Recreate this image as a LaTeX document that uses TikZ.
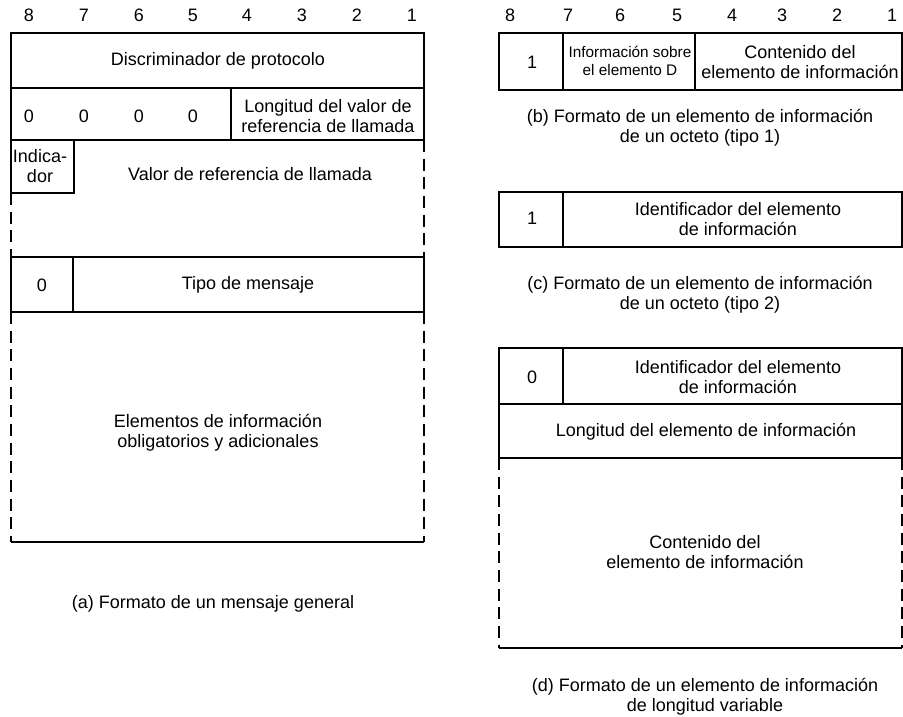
\documentclass[tikz,border=0pt]{standalone}
\usepackage{fontspec}
\setmainfont{Liberation Sans}
\tikzset{
  campo/.style={align=center,inner sep=1pt},
  chico/.style={campo,font=\fontsize{11.5}{13.5}\selectfont},
  corte/.style={dashed,dash pattern=on 9pt off 5pt}
}
\begin{document}
\begin{tikzpicture}[x=0.75pt,y=-0.75pt,line width=.8pt,font=\fontsize{13.5}{15}\selectfont]
\useasboundingbox (0,0) rectangle (903,717);
% numeros de bit
\foreach \b/\x in {8/29,7/84,6/139,5/193,4/247,3/302,2/357,1/412}
  \node (ba\b) at (\x,15) {\b};
\foreach \b/\x in {8/510,7/568,6/620,5/677,4/732,3/782,2/837,1/892}
  \node (bb\b) at (\x,15) {\b};
% (a) mensaje general
\draw (11,140)--(11,33)--(424,33)--(424,140);
\draw (11,88)--(424,88);
\draw (11,140)--(424,140);
\draw (231,88)--(231,140);
\draw (11,140)--(11,193)--(74,193)--(74,140);
\draw[corte] (11,193)--(11,257);
\draw[corte] (424,140)--(424,257);
\draw (11,257) rectangle (424,312);
\draw (73,257)--(73,312);
\draw[corte] (11,312)--(11,542);
\draw[corte] (424,312)--(424,542);
\draw (11,542)--(424,542);
\node[campo] (discrim) at (218,61) {Discriminador de protocolo};
\foreach \x [count=\i] in {29,84,139,193}
  \node[campo] (cero\i) at (\x,116) {0};
\node[campo] (longref) at (328,116) {Longitud del valor de\\referencia de llamada};
\node[campo] (indic) at (40,166) {Indica-\\dor};
\node[campo] (valref) at (250,174) {Valor de referencia de llamada};
\node[campo] (ceromsg) at (42,285) {0};
\node[campo] (tipo) at (248,285) {Tipo de mensaje};
\node[campo] (elem) at (218,433) {Elementos de información\\obligatorios y adicionales};
\node[campo] (capa) at (213,604) {(a) Formato de un mensaje general};
% (b) un octeto, tipo 1
\draw (499,33) rectangle (902,90);
\draw (563,33)--(563,90);
\draw (695,33)--(695,90);
\node[campo] (unob) at (532,62) {1};
\node[chico] (infod) at (630,61) {Información sobre\\el elemento D};
\node[campo] (contb) at (800,62) {Contenido del\\elemento de información};
\node[campo] (capb) at (700,128) {(b) Formato de un elemento de información\\de un octeto (tipo 1)};
% (c) un octeto, tipo 2
\draw (499,192) rectangle (902,247);
\draw (563,192)--(563,247);
\node[campo] (unoc) at (532,218) {1};
\node[campo] (idc) at (738,219) {Identificador del elemento\\de información};
\node[campo] (capc) at (700,295) {(c) Formato de un elemento de información\\de un octeto (tipo 2)};
% (d) longitud variable
\draw (499,458)--(499,348)--(902,348)--(902,458);
\draw (499,404)--(902,404);
\draw (499,458)--(902,458);
\draw (563,348)--(563,404);
\draw[corte] (499,458)--(499,648);
\draw[corte] (902,458)--(902,648);
\draw (499,648)--(902,648);
\node[campo] (cerod) at (532,377) {0};
\node[campo] (idd) at (738,377) {Identificador del elemento\\de información};
\node[campo] (longd) at (706,432) {Longitud del elemento de información};
\node[campo] (contd) at (705,552) {Contenido del\\elemento de información};
\node[campo] (capd) at (705,697) {(d) Formato de un elemento de información\\de longitud variable};
\end{tikzpicture}
\end{document}
